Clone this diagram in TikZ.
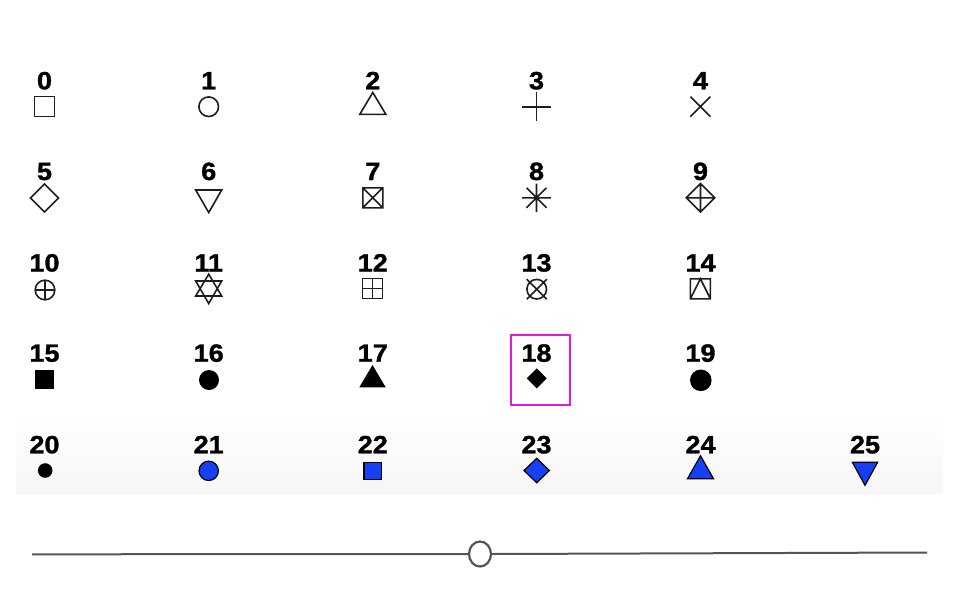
\documentclass[tikz,border=0pt]{standalone}
\usepackage{fontspec}
\setmainfont{Liberation Sans}
\newfontfamily\lblfont{Liberation Sans}[FakeStretch=1.08, BoldFeatures={FakeBold=1.3}]
\usetikzlibrary{shapes.geometric}
\definecolor{symblue}{RGB}{22,64,245}
\definecolor{mag}{RGB}{228,24,228}
\definecolor{slidergray}{RGB}{85,85,85}
\definecolor{symline}{RGB}{30,30,30}
\tikzset{
  lbl/.style={anchor=base, inner sep=0pt, font=\lblfont\bfseries\fontsize{25}{25}\selectfont},
  osym/.style={draw=symline, line width=1.6pt, line join=miter},
  fsym/.style={fill=black, draw=none},
  bsym/.style={fill=symblue, draw=black, line width=1.2pt, line join=miter},
}
\begin{document}
\begin{tikzpicture}[x=1pt,y=-1pt]
\useasboundingbox (0,0) rectangle (960,600);
\fill[white] (0,0) rectangle (960,600);
% faint band behind the last row
\shade[top color=white, bottom color={rgb,1:red,0.965;green,0.965;blue,0.965}] (16,415) rectangle (943,493);
% labels
\foreach \n/\x/\y in {0/44.5/89.3,1/208.7/89.3,2/372.8/89.3,3/536.5/89.3,4/700.5/89.3,
  5/44.5/180,6/208.7/180,7/372.8/180,8/536.5/180,9/700.5/180,
  10/44.5/271.5,11/208.7/271.5,12/372.8/271.5,13/536.5/271.5,14/700.5/271.5,
  15/44.5/361.7,16/208.7/361.7,17/372.8/361.7,18/536.5/361.7,19/700.5/361.7,
  20/44.5/453.3,21/208.7/453.3,22/372.8/453.3,23/536.5/453.3,24/700.5/453.3,25/865/453.3}
  {\node[lbl] (l\n) at (\x,\y) {\n};}
% row 0
\draw[osym] (34.5,96.5) rectangle (54.5,116.5);
\draw[osym] (208.7,106.7) circle[radius=9.8];
\draw[osym] (372.8,92.5) -- (385.8,114.3) -- (359.8,114.3) -- cycle;
\draw[osym] (522.2,106.7) -- (550.8,106.7) (536.5,92.4) -- (536.5,121);
\draw[osym] (690.4,96.7) -- (710.4,116.7) (690.4,116.7) -- (710.4,96.7);
% row 1
\draw[osym] (44.5,184) -- (58.5,198) -- (44.5,212) -- (30.5,198) -- cycle;
\draw[osym] (195.7,190) -- (221.7,190) -- (208.7,212.5) -- cycle;
\draw[osym] (362.8,187.8) rectangle (382.8,207.8) (362.8,187.8) -- (382.8,207.8) (362.8,207.8) -- (382.8,187.8);
\draw[osym] (522.2,197.8) -- (550.8,197.8) (536.5,183.5) -- (536.5,212.1)
  (526.5,187.8) -- (546.5,207.8) (526.5,207.8) -- (546.5,187.8);
\draw[osym] (700.5,183.5) -- (714.8,197.8) -- (700.5,212.1) -- (686.2,197.8) -- cycle
  (686.2,197.8) -- (714.8,197.8) (700.5,183.5) -- (700.5,212.1);
% row 2
\draw[osym] (45,290) circle[radius=9.8] (35.2,290) -- (54.8,290) (45,280.2) -- (45,299.8);
\draw[osym] (208.7,274.2) -- (221.7,296) -- (195.7,296) -- cycle
  (195.7,281) -- (221.7,281) -- (208.7,303.5) -- cycle;
\draw[osym] (362.5,278.5) rectangle (382.5,298.5) (362.5,288.5) -- (382.5,288.5) (372.5,278.5) -- (372.5,298.5);
\draw[osym] (536.7,289.2) circle[radius=9.8] (526.7,279.2) -- (546.7,299.2) (526.7,299.2) -- (546.7,279.2);
\draw[osym] (690.4,278.8) rectangle (710.4,298.8) (690.4,298.8) -- (700.4,278.8) -- (710.4,298.8);
% row 3
\fill[fsym] (35,370) rectangle (54.3,389.3);
\fill[fsym] (209,380) circle[radius=10];
\fill[fsym] (372.5,365) -- (385.7,387.3) -- (359.3,387.3) -- cycle;
\fill[fsym] (536.7,368.3) -- (546.7,378.3) -- (536.7,388.3) -- (526.7,378.3) -- cycle;
\fill[fsym] (700.8,380.3) circle[radius=10.8];
% row 4
\fill[fsym] (45.2,470.5) circle[radius=7.3];
\draw[bsym] (208.7,470.8) circle[radius=9.7];
\draw[bsym] (363.9,462.3) rectangle (381.7,479.4);
\draw[bsym] (536.7,458.3) -- (549.4,470.5) -- (536.7,482.7) -- (524,470.5) -- cycle;
\draw[bsym] (700.5,455.8) -- (713.5,478.7) -- (687.5,478.7) -- cycle;
\draw[bsym] (852.4,462.3) -- (877.6,462.3) -- (865,485.3) -- cycle;
% highlight
\draw[mag, line width=2.2pt] (511,335) rectangle (570,405);
% slider
\node[ellipse, draw=slidergray, line width=2.2pt, fill=white, minimum width=22pt, minimum height=25pt, inner sep=0pt] (knob) at (480,554) {};
\coordinate (sl) at (32,554.3);
\coordinate (sr) at (927,552.5);
\draw[slidergray, line width=2pt] (sl) -- (knob.west) (knob.east) -- (sr);
\end{tikzpicture}
\end{document}
